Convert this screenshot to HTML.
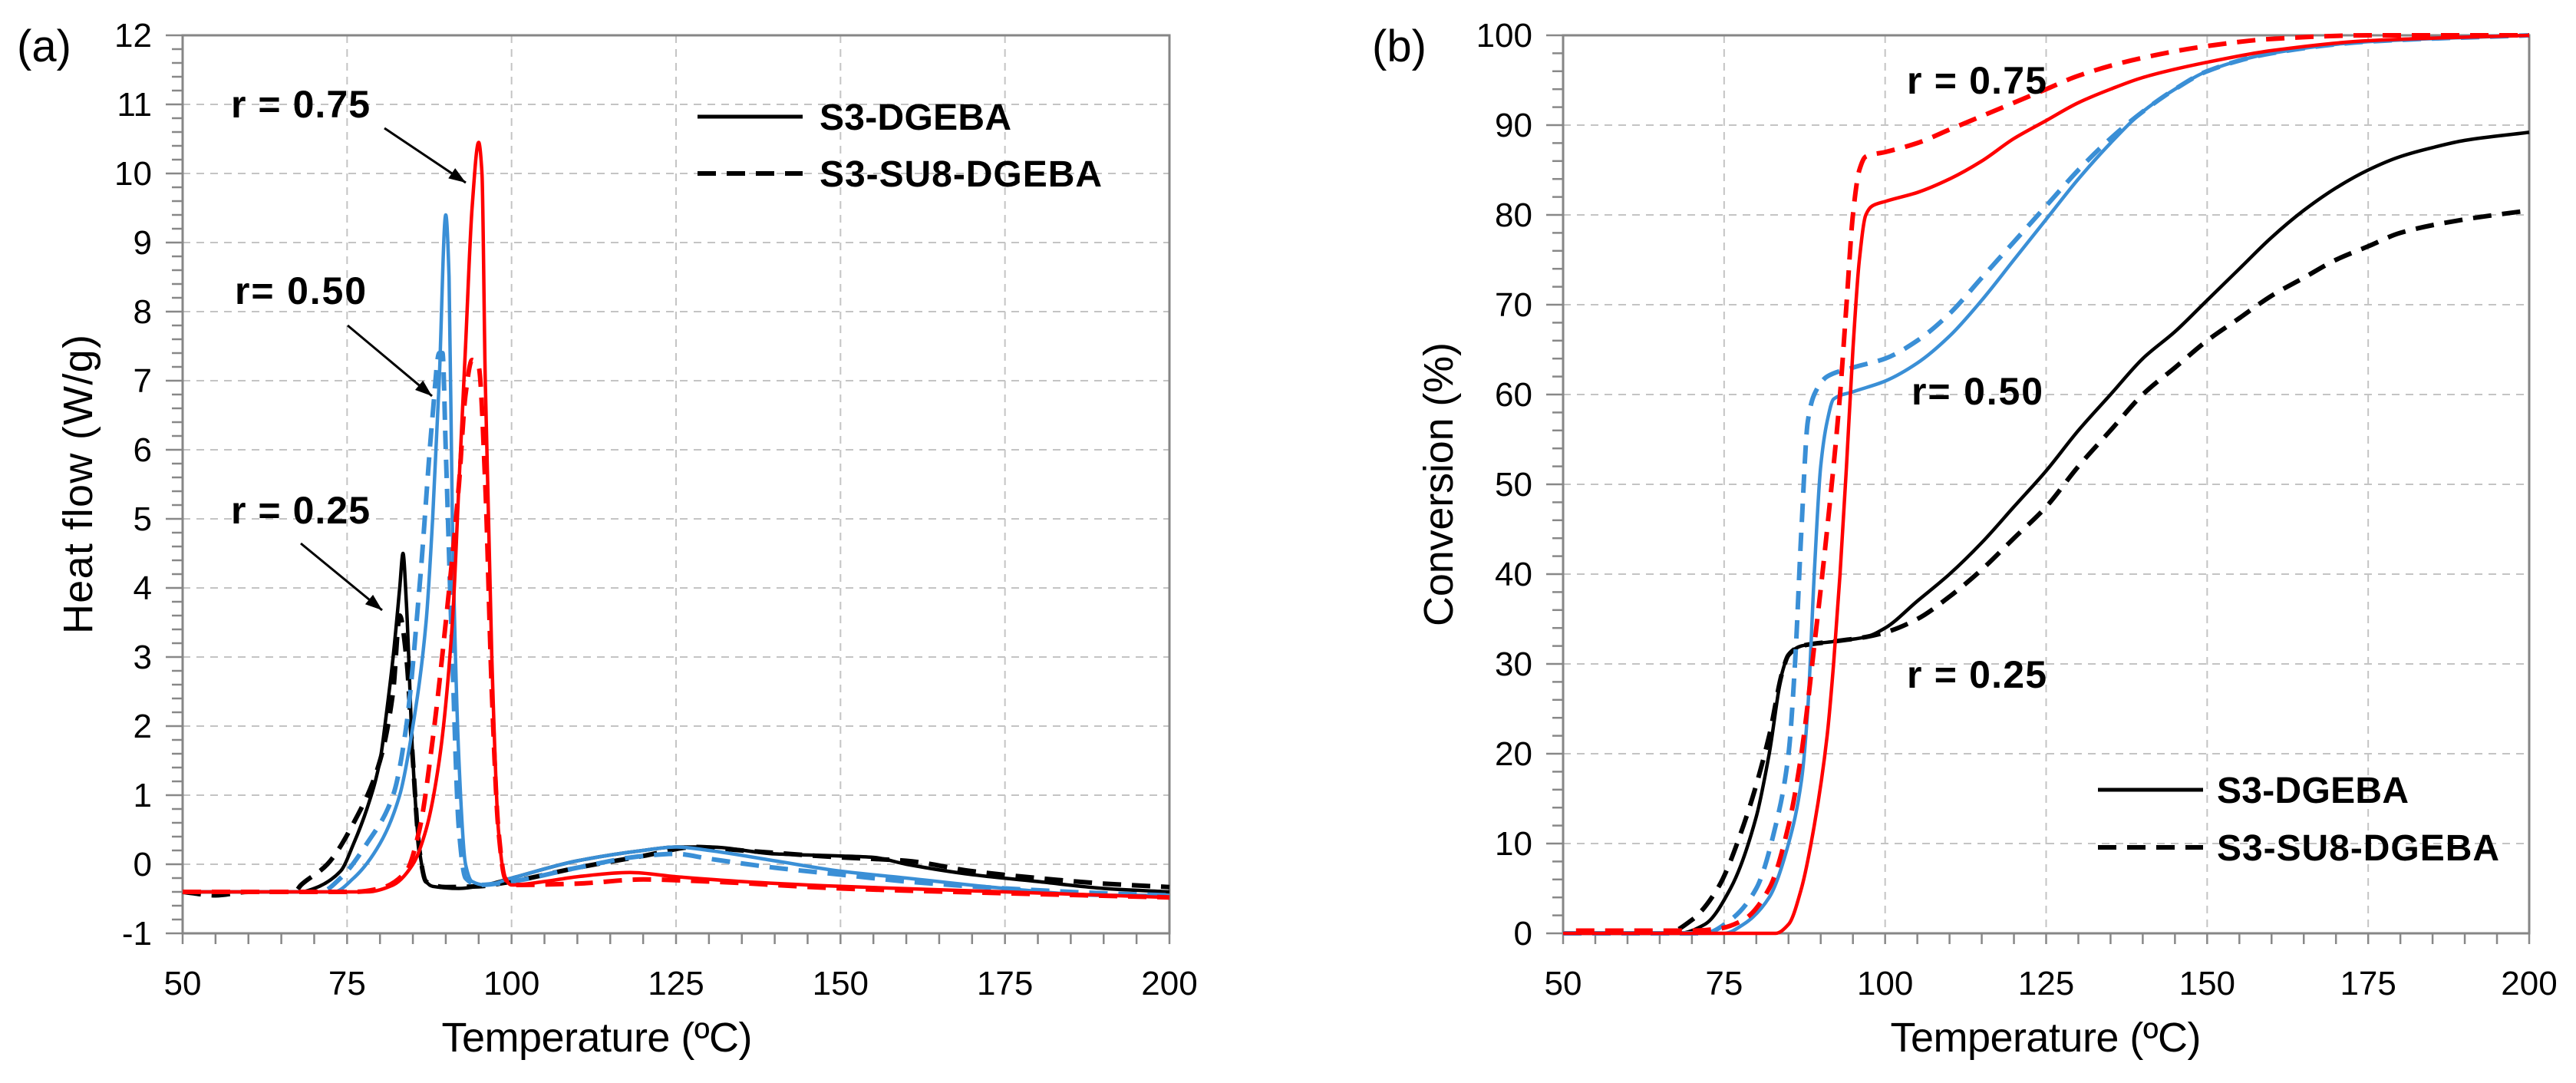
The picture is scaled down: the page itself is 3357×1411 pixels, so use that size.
<!DOCTYPE html>
<html><head><meta charset="utf-8"><style>
html,body{margin:0;padding:0;background:#fff;}
svg{display:block;font-family:"Liberation Sans",sans-serif;}
</style></head><body>
<svg id="fig" width="3357" height="1411" viewBox="0 0 3357 1411" xmlns="http://www.w3.org/2000/svg">
<rect width="3357" height="1411" fill="#fff"/>
<g id="pa"></g>
<g id="pb"></g>
</svg>
<script>
// ---- Panel (a) data: Heat flow (W/g) vs Temperature (°C)
const aXTicks = [50,75,100,125,150,175,200];
const aYTicks = [-1,0,1,2,3,4,5,6,7,8,9,10,11,12];
const aBlackSolidT = [50,68,70,74,76,78,80,81,82,83,83.5,84,85,86,87,88,92,96,100,110,120,125,130,140,150,155,160,170,180,190,200];
const aBlackSolidV = [-0.4,-0.4,-0.35,-0.1,0.3,0.8,1.5,2.2,3.0,4.0,4.5,3.8,1.5,0.2,-0.25,-0.32,-0.35,-0.3,-0.2,0.05,0.2,0.25,0.25,0.15,0.12,0.1,0.0,-0.15,-0.25,-0.35,-0.4];
const aBlackDashT = [50,55,60,67,68,72,76,80,82,83,84,85,86,87,90,95,100,110,120,128,135,150,160,170,180,190,200];
const aBlackDashV = [-0.4,-0.45,-0.4,-0.4,-0.3,0.0,0.6,1.5,2.5,3.6,3.0,1.5,0.2,-0.25,-0.33,-0.32,-0.25,-0.05,0.12,0.25,0.2,0.1,0.05,-0.1,-0.2,-0.28,-0.33];
const aBlueSolidT = [50,73,76,80,83,85,87,88,89,90,90.5,91,92,93,94,96,100,110,120,125,130,140,150,160,175,190,200];
const aBlueSolidV = [-0.4,-0.4,-0.2,0.3,1.0,2.0,3.5,5.0,7.0,9.4,8.5,5.0,1.5,0.0,-0.25,-0.3,-0.2,0.05,0.2,0.25,0.2,0.05,-0.1,-0.2,-0.35,-0.45,-0.45];
const aBlueDashT = [50,71,74,78,82,84,86,88,89,89.5,90,91,92,93,95,100,110,120,125,130,140,150,160,175,190,200];
const aBlueDashV = [-0.4,-0.4,-0.2,0.3,1.0,2.0,4.0,6.5,7.4,7.4,6.0,3.0,0.5,-0.2,-0.3,-0.25,-0.05,0.12,0.15,0.08,-0.05,-0.15,-0.25,-0.35,-0.42,-0.45];
const aRedSolidT = [50,78,82,85,87,89,91,92,93,94,95,95.5,96,97,98,99,100,105,110,118,125,135,150,175,200];
const aRedSolidV = [-0.4,-0.4,-0.3,0.0,0.5,1.5,3.5,5.5,7.5,9.5,10.45,10.0,7.0,3.0,0.5,-0.2,-0.3,-0.25,-0.18,-0.12,-0.18,-0.25,-0.32,-0.4,-0.48];
const aRedDashT = [50,76,80,84,86,88,90,92,93,94,95,96,97,98,99,100,110,120,130,150,175,200];
const aRedDashV = [-0.4,-0.4,-0.35,-0.1,0.5,1.8,3.5,5.5,6.8,7.3,7.2,5.5,2.5,0.5,-0.2,-0.3,-0.28,-0.22,-0.25,-0.35,-0.42,-0.48];

// ---- Panel (b) data: Conversion (%) vs Temperature (°C)
const bXTicks = [50,75,100,125,150,175,200];
const bYTicks = [0,10,20,30,40,50,60,70,80,90,100];
const bBlackSolidT = [50,68,72,76,80,82,84,85,87,92,97,100,105,110,115,120,125,130,135,140,145,150,155,160,165,170,175,180,185,190,200];
const bBlackSolidV = [0,0,1,5,13,20,29,31,32,32.5,33,34,37,40,43.5,47.5,51.5,56,60,64,67,70.5,74,77.5,80.5,83,85,86.5,87.5,88.3,89.2];
const bBlackDashT = [50,66,70,74,78,82,84,85,87,92,97,100,105,110,115,120,125,130,135,140,145,150,155,160,165,170,175,180,190,200];
const bBlackDashV = [0,0,1.5,5,12,22,29,31,32,32.5,33,33.5,35,37.5,40.5,44,47.5,52,56,60,63,66,68.5,71,73,75,76.5,78,79.5,80.5];
const bBlueSolidT = [50,75,78,82,85,87,88,89,90,91,92,95,100,105,110,115,120,125,130,135,140,145,150,160,175,200];
const bBlueSolidV = [0,0,1,4,10,17,25,40,52,57,59.5,60.3,61.5,63.5,66.5,70.5,75,79.5,84,88,91.5,94,96,98,99.3,100];
const bBlueDashT = [50,72,76,80,83,85,86,87,88,89,91,95,100,105,110,115,120,125,130,135,140,145,150,160,175,200];
const bBlueDashV = [0,0,1.5,5,12,20,30,45,57,60,62,63,64,66,69,73,77,81,85,88.5,91.5,94,96,98,99.3,100];
const bRedSolidT = [50,83,85,87,89,91,92,93,94,95,96,97,98,100,105,110,115,120,125,130,135,140,150,160,175,200];
const bRedSolidV = [0,0,1,5,12,22,30,40,52,65,75,80,81,81.5,82.5,84,86,88.5,90.5,92.5,94,95.3,97,98.3,99.4,100];
const bRedDashT = [52,70,74,78,82,85,87,89,91,93,94,95,96,97,100,105,110,115,120,125,130,140,150,160,175,200];
const bRedDashV = [0.3,0.3,0.5,1.5,5,12,20,32,45,60,70,80,85,86.5,87,88,89.5,91,92.5,94,95.5,97.5,98.8,99.6,100,100];

const NS = "http://www.w3.org/2000/svg";
function mk(parent, tag, attrs, text){
  const e = document.createElementNS(NS, tag);
  for (const k in attrs) e.setAttribute(k, attrs[k]);
  if (text !== undefined) e.textContent = text;
  parent.appendChild(e);
  return e;
}
function axis(x0,x1,y0,y1,xmin,xmax,ymin,ymax){
  return {
    sx: v => x0 + (v - xmin) / (xmax - xmin) * (x1 - x0),
    sy: v => y1 - (v - ymin) / (ymax - ymin) * (y1 - y0),
    x0, x1, y0, y1
  };
}
function drawFrame(g, ax, xTicks, yTicks, yMinorStep, ymin, ymax, xMinorStep){
  xTicks.forEach(t => {
    if (t === xTicks[0]) return;
    const l = mk(g,'line',{x1:ax.sx(t),x2:ax.sx(t),y1:ax.y0,y2:ax.y1,stroke:'#c4c4c4','stroke-width':2,'stroke-dasharray':'10 8'});
    
    
  });
  yTicks.forEach(t => {
    if (t === yTicks[0]) return;
    const l = mk(g,'line',{x1:ax.x0,x2:ax.x1,y1:ax.sy(t),y2:ax.sy(t),stroke:'#c4c4c4','stroke-width':2,'stroke-dasharray':'10 8'});
    
    
  });
  for (let v = ymin; v <= ymax + 1e-9; v += yMinorStep){
    const major = Math.abs(v - Math.round(v / (yTicks[1]-yTicks[0])) * (yTicks[1]-yTicks[0])) < 1e-6;
    const l = mk(g,'line',{x1:ax.x0-(major?22:14),x2:ax.x0,y1:ax.sy(v),y2:ax.sy(v),stroke:'#888','stroke-width':2.5});
    
    
  }
  for (let v = xTicks[0]; v <= xTicks[xTicks.length-1] + 1e-9; v += xMinorStep){
    const l = mk(g,'line',{x1:ax.sx(v),x2:ax.sx(v),y1:ax.y1,y2:ax.y1+14,stroke:'#888','stroke-width':2.5});
    
    
  }
  const fr = mk(g,'rect',{x:ax.x0,y:ax.y0,width:ax.x1-ax.x0,height:ax.y1-ax.y0,fill:'none',stroke:'#868686','stroke-width':3});
  
  
  xTicks.forEach(t => {
    const tx = mk(g,'text',{x:ax.sx(t),y:ax.y1+80,'font-size':44,'text-anchor':'middle',fill:'#000'}, String(t));
    
    
  });
  yTicks.forEach(t => {
    const tx = mk(g,'text',{x:ax.x0-40,y:ax.sy(t)+15,'font-size':44,'text-anchor':'end',fill:'#000'}, String(t));
    
    
  });
}
// monotone cubic path through pixel points
function monoPath(xs, ys){
  const n = xs.length;
  if (n < 2) return '';
  const d = [], m = new Array(n);
  for (let i = 0; i < n-1; i++) d.push((ys[i+1]-ys[i])/(xs[i+1]-xs[i]));
  m[0] = d[0]; m[n-1] = d[n-2];
  for (let i = 1; i < n-1; i++){
    if (d[i-1]*d[i] <= 0) m[i] = 0;
    else { const w1 = 2*(xs[i+1]-xs[i]) + (xs[i]-xs[i-1]), w2 = (xs[i+1]-xs[i]) + 2*(xs[i]-xs[i-1]);
      m[i] = (w1+w2)/(w1/d[i-1] + w2/d[i]); }
  }
  let s = 'M' + xs[0].toFixed(1) + ',' + ys[0].toFixed(1);
  for (let i = 0; i < n-1; i++){
    const h = (xs[i+1]-xs[i])/3;
    s += ' C' + (xs[i]+h).toFixed(1) + ',' + (ys[i]+m[i]*h).toFixed(1) + ' ' +
         (xs[i+1]-h).toFixed(1) + ',' + (ys[i+1]-m[i+1]*h).toFixed(1) + ' ' +
         xs[i+1].toFixed(1) + ',' + ys[i+1].toFixed(1);
  }
  return s;
}
function series(g, ax, T, V, color, dashed, name){
  const xs = T.map(t => ax.sx(t)), ys = V.map(v => ax.sy(v));
  const p = mk(g,'path',{d:monoPath(xs, ys),fill:'none',stroke:color,'stroke-width':dashed?6:4.5,'stroke-linejoin':'round','stroke-dasharray':dashed?'24 14':'none'});
  
  
}
function label(g, x, y, txt, size, bold, name, anchor, extra){
  const a = {x:x,y:y,'font-size':size,'font-weight':bold?'bold':'normal',fill:'#000','text-anchor':anchor||'start'};
  if (extra) for (const k in extra) a[k] = extra[k];
  const t = mk(g,'text',a,txt);
  
  
  return t;
}
function arrow(g, x1,y1,x2,y2,name){
  const l = mk(g,'line',{x1:x1,y1:y1,x2:x2,y2:y2,stroke:'#000','stroke-width':3});
  
  
  const ang = Math.atan2(y2-y1,x2-x1), L=22, W=8;
  const bx = x2 - L*Math.cos(ang), by = y2 - L*Math.sin(ang);
  const p = mk(g,'polygon',{points:`${x2},${y2} ${bx - W*Math.sin(ang)},${by + W*Math.cos(ang)} ${bx + W*Math.sin(ang)},${by - W*Math.cos(ang)}`,fill:'#000'});
  
  
}
function legend(g, x, y1, y2, tx){
  const a = mk(g,'line',{x1:x,x2:x+137,y1:y1,y2:y1,stroke:'#000','stroke-width':5});
  
  
  const b = mk(g,'line',{x1:x,x2:x+137,y1:y2,y2:y2,stroke:'#000','stroke-width':6,'stroke-dasharray':'24 14'});
  
  
  label(g, tx, y1+17, 'S3-DGEBA', 48, true, 'legend-entry-s3-dgeba', 'start', {textLength:250});
  label(g, tx, y2+17, 'S3-SU8-DGEBA', 48, true, 'legend-entry-s3-su8-dgeba', 'start', {textLength:368});
}

const BLUE = '#3a8fd6', RED = '#ff0000';
const ga = document.getElementById('pa');
const axA = axis(238,1524,46,1216,50,200,-1,12);
drawFrame(ga, axA, aXTicks, aYTicks, 0.2, -1, 12, 5);
series(ga, axA, aBlackSolidT, aBlackSolidV, '#000', false, 'series-a-r025-s3-dgeba');
series(ga, axA, aBlackDashT, aBlackDashV, '#000', true, 'series-a-r025-s3-su8-dgeba');
series(ga, axA, aBlueSolidT, aBlueSolidV, BLUE, false, 'series-a-r050-s3-dgeba');
series(ga, axA, aBlueDashT, aBlueDashV, BLUE, true, 'series-a-r050-s3-su8-dgeba');
series(ga, axA, aRedSolidT, aRedSolidV, RED, false, 'series-a-r075-s3-dgeba');
series(ga, axA, aRedDashT, aRedDashV, RED, true, 'series-a-r075-s3-su8-dgeba');
label(ga, 22, 80, '(a)', 58, false, 'panel-a-label');
label(ga, 778, 1370, 'Temperature (ºC)', 54, false, 'x-axis-title-a', 'middle', {textLength:405});
label(ga, 0, 0, 'Heat flow (W/g)', 54, false, 'y-axis-title-a', 'middle', {transform:'translate(120,631) rotate(-90)', textLength:390});
label(ga, 301, 153, 'r = 0.75', 50, true, 'annotation-r075-a', 'start', {textLength:181});
label(ga, 306, 396, 'r= 0.50', 50, true, 'annotation-r050-a', 'start', {textLength:171});
label(ga, 301, 682, 'r = 0.25', 50, true, 'annotation-r025-a', 'start', {textLength:181});
arrow(ga, 501,167,607,238,'arrow-r075');
arrow(ga, 453,424,563,516,'arrow-r050');
arrow(ga, 392,708,498,795,'arrow-r025');
legend(ga, 909, 152, 226, 1068);

const gb = document.getElementById('pb');
const axB = axis(2037,3296,46,1216,50,200,0,100);
drawFrame(gb, axB, bXTicks, bYTicks, 2, 0, 100, 5);
series(gb, axB, bBlackSolidT, bBlackSolidV, '#000', false, 'series-b-r025-s3-dgeba');
series(gb, axB, bBlackDashT, bBlackDashV, '#000', true, 'series-b-r025-s3-su8-dgeba');
series(gb, axB, bBlueSolidT, bBlueSolidV, BLUE, false, 'series-b-r050-s3-dgeba');
series(gb, axB, bBlueDashT, bBlueDashV, BLUE, true, 'series-b-r050-s3-su8-dgeba');
series(gb, axB, bRedSolidT, bRedSolidV, RED, false, 'series-b-r075-s3-dgeba');
series(gb, axB, bRedDashT, bRedDashV, RED, true, 'series-b-r075-s3-su8-dgeba');
label(gb, 1788, 80, '(b)', 58, false, 'panel-b-label');
label(gb, 2666, 1370, 'Temperature (ºC)', 54, false, 'x-axis-title-b', 'middle', {textLength:405});
label(gb, 0, 0, 'Conversion (%)', 54, false, 'y-axis-title-b', 'middle', {transform:'translate(1893,631) rotate(-90)', textLength:370});
label(gb, 2485, 122, 'r = 0.75', 50, true, 'annotation-r075-b', 'start', {textLength:182});
label(gb, 2491, 527, 'r= 0.50', 50, true, 'annotation-r050-b', 'start', {textLength:171});
label(gb, 2485, 896, 'r = 0.25', 50, true, 'annotation-r025-b', 'start', {textLength:182});
legend(gb, 2734, 1029, 1104, 2889);
</script>
</body></html>
